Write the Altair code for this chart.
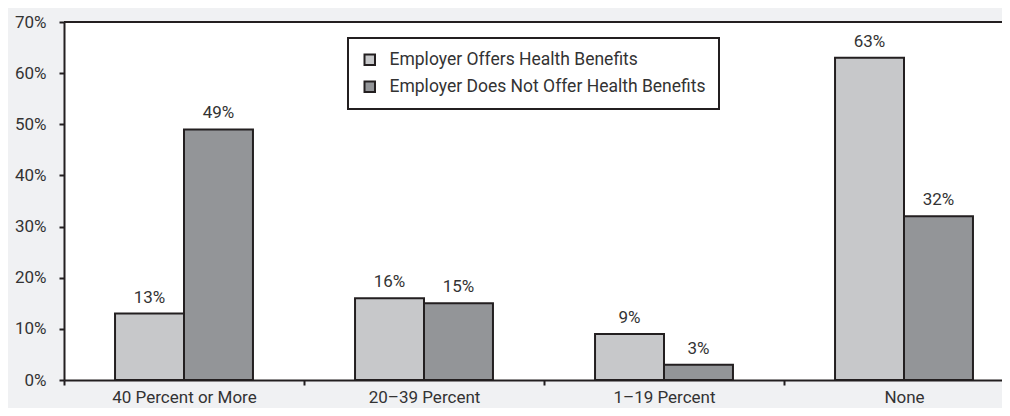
import altair as alt
import pandas as pd

categories = ["40 Percent or More", "20–39 Percent", "1–19 Percent", "None"]
series = ["Employer Offers Health Benefits", "Employer Does Not Offer Health Benefits"]
offers = [13, 16, 9, 63]
not_offers = [49, 15, 3, 32]
y_ticks = [0, 10, 20, 30, 40, 50, 60, 70]

rows = []
for c, a, b in zip(categories, offers, not_offers):
    rows.append({"category": c, "series": series[0], "value": a, "label": f"{a}%"})
    rows.append({"category": c, "series": series[1], "value": b, "label": f"{b}%"})
df = pd.DataFrame(rows)

FONT = "Roboto, sans-serif"
INK = "#231f20"

x_enc = alt.X(
    "category:N",
    sort=categories,
    scale=alt.Scale(range=[0, 960], paddingInner=0, paddingOuter=0),
    axis=alt.Axis(title=None, labelAngle=0, tickBand="extent", labelPadding=4,
                  labelFontSize=17),
)
xo_enc = alt.XOffset("series:N", sort=series,
                     scale=alt.Scale(paddingInner=0, paddingOuter=0.74))
y_enc = alt.Y(
    "value:Q",
    scale=alt.Scale(domain=[0, 70], nice=False),
    axis=alt.Axis(title=None, values=y_ticks, grid=False,
                  labelExpr="datum.value + '%'", labelPadding=13, labelFontSize=17),
)

bars = alt.Chart(df).mark_bar(stroke=INK, strokeWidth=2).encode(
    x=x_enc,
    xOffset=xo_enc,
    y=y_enc,
    color=alt.Color(
        "series:N",
        sort=series,
        scale=alt.Scale(domain=series, range=["#c7c8ca", "#939598"]),
        legend=alt.Legend(
            title=None, orient="none", legendX=284, legendY=16,
            fillColor="white", strokeColor=INK, padding=13, rowPadding=8,
            symbolType="square", symbolSize=110, symbolStrokeColor=INK,
            symbolStrokeWidth=2, labelFontSize=17.5, labelOffset=11,
            labelColor="#333", labelFont=FONT, labelLimit=0,
        ),
    ),
)

texts = alt.Chart(df).mark_text(
    baseline="bottom", dy=-7, fontSize=17, font=FONT, color="#333"
).encode(x=x_enc, xOffset=xo_enc, y=y_enc, text="label:N")

top = alt.Chart(pd.DataFrame({"v": [70]})).mark_rule(
    color=INK, strokeWidth=2
).encode(y=alt.Y("v:Q"))

chart = (
    alt.layer(bars, texts, top)
    .properties(
        width=938, height=358,
        autosize=alt.AutoSizeParams(type="none"),
        padding={"left": 56, "top": 14, "right": 0, "bottom": 28},
        background="#f0f1f3",
    )
    .configure_view(fill="white", strokeWidth=0)
    .configure_axis(
        domainColor=INK, domainWidth=2, tickColor=INK, tickWidth=2, tickSize=5,
        labelColor="#333", labelFont=FONT,
    )
    .configure_legend(strokeWidth=2)
)

chart.save("out.html", embed_options={"renderer": "svg", "actions": False})
